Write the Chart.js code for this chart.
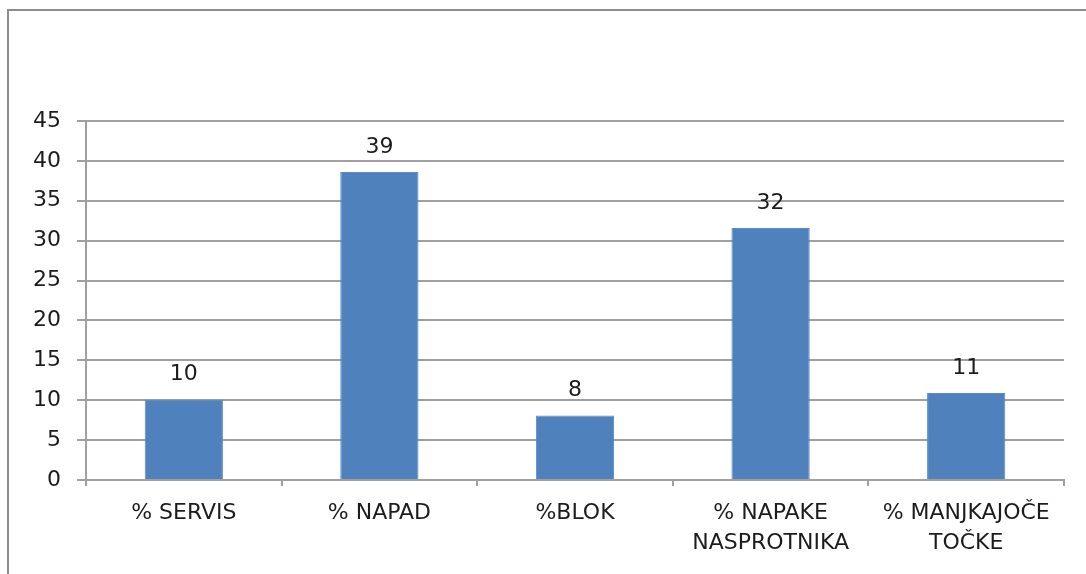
<!DOCTYPE html>
<html>
<head>
<meta charset="utf-8">
<script src="https://cdn.jsdelivr.net/npm/chart.js@4/dist/chart.umd.min.js"></script>
<style>
  html, body { margin: 0; padding: 0; background: #fff; overflow: hidden; }
  #frame { position: absolute; left: 7px; top: 9px; width: 1200px; height: 700px; border: 2px solid #8c8c8c; }
  #wrap { position: absolute; left: 0; top: 0; width: 1086px; height: 574px; }
</style>
</head>
<body>
<div id="frame"></div>
<div id="wrap"><canvas id="chart" width="1086" height="574"></canvas></div>
<script>
const categories = [
    '% SERVIS',
    '% NAPAD',
    '%BLOK',
    ['% NAPAKE', 'NASPROTNIKA'],
    ['% MANJKAJOČE', 'TOČKE']
]
const values = [10.1, 38.6, 8.1, 31.6, 10.9]
const yTicks = [0, 5, 10, 15, 20, 25, 30, 35, 40, 45]

const textColor = '#1c1c1c'
const gridColor = '#a0a0a0'
const fontFace = '"DejaVu Sans", Verdana, sans-serif'

// vrednosti nad stolpci (zaokrozene kot v Excelu)
const barLabels = {
    id: 'barLabels',
    afterDatasetsDraw(chart) {
        const ctx = chart.ctx
        const meta = chart.getDatasetMeta(0)
        ctx.save()
        ctx.font = '22px ' + fontFace
        ctx.fillStyle = textColor
        ctx.textAlign = 'center'
        ctx.textBaseline = 'bottom'
        meta.data.forEach((bar, i) => {
            ctx.fillText(Math.round(values[i]), bar.x, bar.y - 14)
        })
        ctx.restore()
    }
}

new Chart(document.getElementById('chart'), {
    type: 'bar',
    data: {
        labels: categories,
        datasets: [{
            data: values,
            backgroundColor: '#4f81bd',
            borderColor: '#5a8ac4',
            borderWidth: 1,
            categoryPercentage: 1,
            barPercentage: 0.4
        }]
    },
    options: {
        responsive: false,
        animation: false,
        layout: { padding: { left: 0, top: 121, right: 22, bottom: 0 } },
        plugins: {
            legend: { display: false },
            tooltip: { enabled: false }
        },
        scales: {
            x: {
                grid: {
                    offset: true,
                    drawOnChartArea: false,
                    drawTicks: true,
                    tickLength: 6,
                    color: gridColor,
                    lineWidth: 2
                },
                border: { color: gridColor, width: 2 },
                ticks: {
                    color: textColor,
                    font: { family: fontFace, size: 22, lineHeight: 1.38 },
                    padding: 12,
                    maxRotation: 0,
                    autoSkip: false
                },
                afterFit(scale) { scale.height = 94 }
            },
            y: {
                min: 0,
                max: 45,
                afterBuildTicks(scale) { scale.ticks = yTicks.map(v => ({ value: v })) },
                grid: {
                    color: gridColor,
                    lineWidth: 2,
                    tickLength: 9
                },
                border: { color: gridColor, width: 2 },
                ticks: {
                    color: textColor,
                    font: { family: fontFace, size: 22 },
                    padding: 16
                },
                afterFit(scale) { scale.width = 86 }
            }
        }
    },
    plugins: [barLabels]
})
</script>
</body>
</html>
